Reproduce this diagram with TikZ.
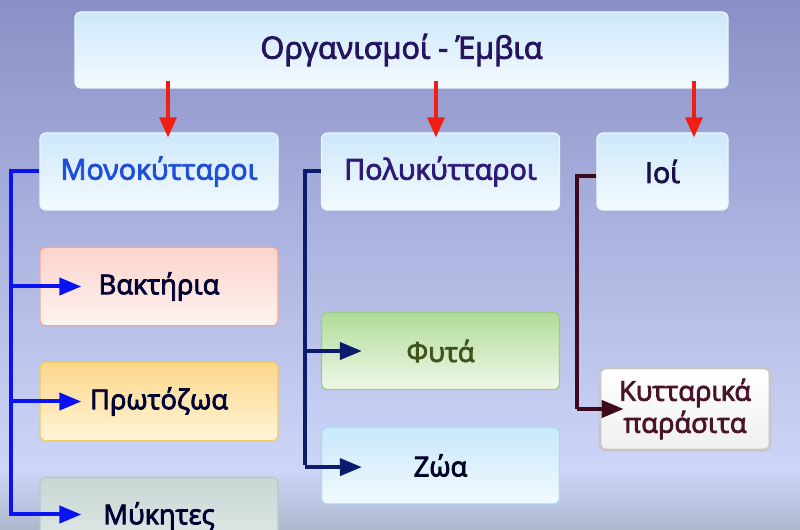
\documentclass[tikz,border=0pt]{standalone}
\usepackage{fontspec}
\setmainfont[FakeBold=3]{Open Sans}
\usetikzlibrary{arrows.meta}

\definecolor{bgtop}{HTML}{8A90C6}
\definecolor{bgmid}{HTML}{CDD6F8}
\definecolor{bgbot}{HTML}{AEB8CE}
\definecolor{skytop}{HTML}{CDE8FA}
\definecolor{skybot}{HTML}{F4FAFF}
\definecolor{monoblue}{HTML}{0A14F0}
\definecolor{polynavy}{HTML}{0C1C6C}
\definecolor{ioimaroon}{HTML}{3C0A1C}
\definecolor{arrowred}{HTML}{F01E14}
\definecolor{indigotext}{HTML}{2E1A78}

\tikzset{
  box/.style={rounded corners=4.5pt, minimum width=#1, minimum height=57.75pt,
    inner sep=0pt, align=center, font=\fontsize{20.5}{24}\selectfont, line width=0.9pt},
  box/.default=178.5pt,
  bluebox/.style={box=#1, draw=skytop!40!white, top color=skytop, bottom color=skybot,
    font=\fontsize{21.5}{24}\selectfont},
  redarrow/.style={arrowred, line width=2.4pt, -{Triangle[length=15pt,width=12.75pt]}},
  branch/.style={line width=3pt, -{Triangle[length=16.5pt,width=12.75pt]}},
}

\begin{document}
\begin{tikzpicture}[x=0.75pt, y=-0.75pt]
  \useasboundingbox (0,0) rectangle (800,530);
  \shade[top color=bgtop, bottom color=bgmid] (0,0) rectangle (800,470);
  \shade[top color=bgmid, bottom color=bgbot] (0,469) rectangle (800,530);

  \node[bluebox=489.75pt, minimum height=57pt, text=indigotext!80!black,
        font=\fontsize{23}{28}\selectfont] (top) at (401.5,50) {Οργανισμοί - Έμβια};

  \node[bluebox, text={rgb,255:red,31;green,79;blue,216}] (mono) at (159,171.5) {Μονοκύτταροι};
  \node[bluebox, text=indigotext] (poly) at (440.5,171.5) {Πολυκύτταροι};
  \node[bluebox=98.25pt, text=indigotext!60!black] (ioi) at (662.5,171.5) {Ιοί};

  \node[box, draw={rgb,255:red,240;green,168;blue,152}, top color={rgb,255:red,251;green,211;blue,204},
        bottom color={rgb,255:red,255;green,243;blue,239}, text=black!80!blue, minimum height=59pt]
        (bakt) at (159,286.5) {Βακτήρια};
  \node[box, draw={rgb,255:red,242;green,200;blue,96}, top color={rgb,255:red,252;green,214;blue,138},
        bottom color={rgb,255:red,255;green,245;blue,216}, text=black!80!blue, minimum height=59pt]
        (proto) at (159,401.5) {Πρωτόζωα};
  \node[box, draw={rgb,255:red,184;green,200;blue,200}, top color={rgb,255:red,200;green,214;blue,212},
        bottom color={rgb,255:red,228;green,236;blue,234}, text=black!80!blue, minimum height=59pt]
        (myk) at (159,516.5) {Μύκητες};

  \node[box, draw={rgb,255:red,156;green,204;blue,136}, top color={rgb,255:red,176;green,220;blue,152},
        bottom color={rgb,255:red,240;green,248;blue,234}, text={rgb,255:red,65;green,82;blue,26}]
        (fyta) at (440.5,351) {Φυτά};
  \node[box, draw={rgb,255:red,168;green,216;blue,244}, top color={rgb,255:red,200;green,232;blue,250},
        bottom color={rgb,255:red,242;green,250;blue,255}, text=black!85!blue]
        (zoa) at (440.5,465.5) {Ζώα};

  \node[box=127.5pt, minimum height=61.5pt, draw=black!22, line width=2pt, top color=white,
        bottom color=black!6, text={rgb,255:red,74;green,20;blue,40}]
        (paras) at (685,409) {Κυτταρικά\\παράσιτα};

  % red arrows from the top box
  \draw[redarrow] ([yshift=6pt]top.south -| mono.north) ++(6.75pt,0) -- ([xshift=6.75pt,yshift=-3.75pt]mono.north);
  \draw[redarrow] ([yshift=6pt]top.south -| poly.north) ++(-3.4pt,0) -- ([xshift=-3.4pt,yshift=-3.75pt]poly.north);
  \draw[redarrow] ([yshift=6pt]top.south -| ioi.north) ++(23.6pt,0) -- ([xshift=23.6pt,yshift=-3.75pt]ioi.north);

  % Μονοκύτταροι
  \coordinate (mroot) at ([xshift=-21pt]mono.west);
  \draw[monoblue, line width=3pt] (mono.west) -- (mroot) -- (mroot |- myk.west);
  \draw[branch, monoblue] (mroot |- bakt.west) -- ([xshift=31.5pt]bakt.west);
  \draw[branch, monoblue] (mroot |- proto.west) -- ([xshift=31.5pt]proto.west);
  \draw[branch, monoblue] ([yshift=1.5pt]mroot |- myk.west) -- ([xshift=31.5pt,yshift=1.5pt]myk.west);

  % Πολυκύτταροι
  \coordinate (proot) at ([xshift=-12pt]poly.west);
  \draw[polynavy, line width=3pt] (poly.west) -- (proot) -- (proot |- zoa.west);
  \draw[branch, polynavy] (proot |- fyta.west) -- ([xshift=30.75pt]fyta.west);
  \draw[branch, polynavy] ([yshift=-1.2pt]proot |- zoa.west) -- ([xshift=30.75pt,yshift=-1.2pt]zoa.west);

  % Ιοί
  \coordinate (iroot) at ([xshift=-14.25pt,yshift=-3.4pt]ioi.west);
  \draw[ioimaroon, line width=3pt] ([yshift=-3.4pt]ioi.west) -- (iroot) -- (iroot |- paras.west);
  \draw[branch, ioimaroon] (iroot |- paras.west) -- ([xshift=18.75pt]paras.west);
\end{tikzpicture}
\end{document}
